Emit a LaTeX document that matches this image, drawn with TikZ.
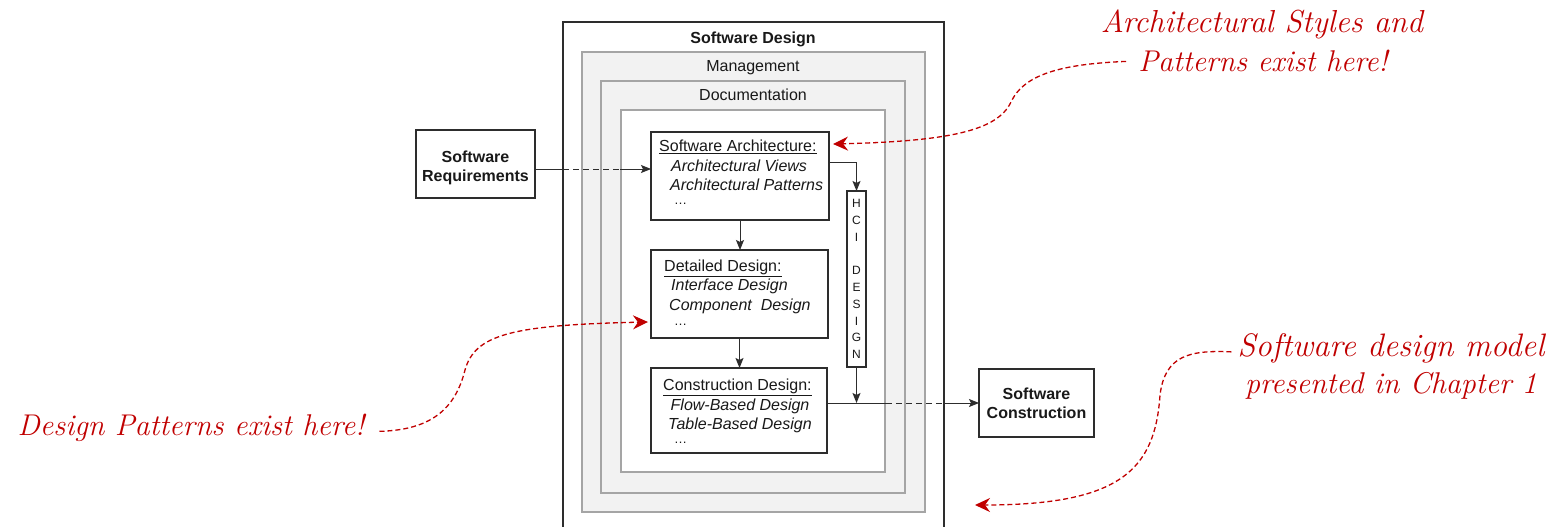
\documentclass[tikz,border=0pt]{standalone}
\usepackage{fontspec}
\setmainfont{Liberation Sans}
\newfontfamily\handfont{Latin Modern Roman}
\usetikzlibrary{arrows.meta,calc}
\definecolor{layerfill}{RGB}{242,242,242}
\definecolor{layerline}{RGB}{165,165,165}
\definecolor{boxline}{RGB}{45,45,45}
\definecolor{annred}{RGB}{192,0,0}
\tikzset{
  box/.style={draw=boxline, line width=1.1pt, fill=white, inner sep=0pt, outer sep=0pt},
  layer/.style={draw=layerline, line width=1.5pt, fill=layerfill, inner sep=0pt, outer sep=0pt},
  lbl/.style={font=\fontsize{16}{19}\selectfont, inner sep=0pt, text=black!90},
  blbl/.style={font=\fontsize{16}{19}\selectfont\bfseries, inner sep=0pt, align=center, text=black!90},
  ttl/.style={font=\fontsize{16}{19}\selectfont, anchor=base west, inner sep=0pt, text=black!90},
  itm/.style={font=\fontsize{16}{19}\selectfont\itshape, anchor=base west, inner sep=0pt, text=black!90},
  dotsl/.style={font=\fontsize{13}{15}\selectfont, anchor=base west, inner sep=0pt, text=black!90},
  conn/.style={draw=boxline, line width=1pt},
  tip/.style={-{Stealth[length=10pt,width=8pt,inset=2pt]}},
  ann/.style={font=\handfont\itshape\fontsize{30}{38}\selectfont, text=annred, inner sep=0pt, anchor=base},
  annarrow/.style={draw=annred, line width=1.3pt, dash pattern=on 5pt off 3pt,
     -{Stealth[length=15pt,width=14pt,inset=5pt]}}
}
\begin{document}
\begin{tikzpicture}[x=1pt,y=-1pt]
\useasboundingbox (0,0) rectangle (1553,527);
\clip (0,0) rectangle (1553,527);
% layers
\node[box, minimum width=381pt, minimum height=538pt] (sd) at (753.5,291) {};
\node[layer, minimum width=343pt, minimum height=460pt] (mgmt) at (753.5,282) {};
\node[layer, minimum width=304pt, minimum height=412pt] (doc) at (753,287) {};
\node[draw=layerline, line width=1.5pt, fill=white, inner sep=0pt, minimum width=264pt, minimum height=362pt] (inner) at (753,291) {};
\node[blbl] (sdl) at (753,39) {Software Design};
\node[lbl] (mgl) at (753,68) {Management};
\node[lbl] (dcl) at (753,95) {Documentation};
% boxes
\node[box, minimum width=178pt, minimum height=88pt] (SA) at (740,176) {};
\node[box, minimum width=177pt, minimum height=88pt] (DD) at (739.5,294) {};
\node[box, minimum width=176pt, minimum height=85pt] (CD) at (739,410.5) {};
\node[box, minimum width=19pt, minimum height=176pt] (HCI) at (856.5,279) {};
\node[box, minimum width=119pt, minimum height=68pt] (SR) at (475.5,164) {};
\node[box, minimum width=115pt, minimum height=68pt] (SC) at (1036.5,403) {};
\node[blbl] (SRt) at ([yshift=-4pt]SR.center) {Software\\Requirements};
\node[blbl] (SCt) at (SC.center) {Software\\Construction};
% texts
\node[ttl] (SA0) at (659,151.5) {\underline{Software Architecture:}};
\node[itm] (SA1) at (671,171) {Architectural Views};
\node[itm] (SA2) at (670,190.5) {Architectural Patterns};
\node[dotsl] (SA3) at (674,204) {…};
\node[ttl] (DD0) at (664,271.5) {\underline{Detailed Design:}};
\node[itm] (DD1) at (671,290.5) {Interface Design};
\node[itm] (DD2) at (669,310) {Component\ \ Design};
\node[dotsl] (DD3) at (674,325) {…};
\node[ttl] (CD0) at (663,390.5) {\underline{Construction Design:}};
\node[itm] (CD1) at (670.5,410) {Flow-Based Design};
\node[itm] (CD2) at (668,429.5) {Table-Based Design};
\node[dotsl] (CD3) at (674,443) {…};
\node[font=\fontsize{12}{16.8}\selectfont, align=center, inner sep=0pt, text=black!90] (HCIt) at (HCI.center) {H\\C\\I\\\mbox{}\\D\\E\\S\\I\\G\\N};
% connectors
\coordinate (r0) at ([yshift=-5pt]SR.east);
\coordinate (r1) at (sd.west |- r0);
\coordinate (r2) at (inner.west |- r0);
\draw[conn] (r0) -- (r1);
\draw[conn, dash pattern=on 6pt off 4pt] (r1) -- (r2);
\draw[conn, tip] (r2) -- (SA.west |- r0);
\coordinate (c0) at (CD.east |- SC.west);
\coordinate (c1) at (inner.east |- SC.west);
\coordinate (c2) at (sd.east |- SC.west);
\draw[conn] (c0) -- (c1);
\draw[conn, dash pattern=on 6pt off 4pt] (c1) -- (c2);
\draw[conn, tip] (c2) -- (SC.west);
\draw[conn, tip] ([yshift=14pt]SA.east) -| (HCI.north);
\draw[conn, tip] (HCI.south) -- (HCI.south |- SC.west);
\draw[conn, tip] (SA.south) -- (SA.south |- DD.north);
\draw[conn, tip] (DD.south) -- (DD.south |- CD.north);
% annotations
\node[ann, font=\handfont\itshape\fontsize{31.8}{38}\selectfont] (a1a) at (1262,33) {Architectural Styles and};
\node[ann] (a1b) at (1263,72) {Patterns exist here!};
\node[ann] (a2) at (191,435) {Design Patterns exist here!};
\node[ann, font=\handfont\itshape\fontsize{32.5}{38}\selectfont] (a3a) at (1391,356) {Software design model};
\node[ann] (a3b) at (1391,393) {presented in Chapter 1};
\coordinate (e1) at ([xshift=4pt,yshift=32pt]SA.east);
\coordinate (e2) at ([xshift=-3pt,yshift=-28pt]DD.west);
\coordinate (e3) at (975,505);
\draw[annarrow] ([xshift=-12pt]a1b.west) .. controls (1060,64) and (1025,75) .. (1012,100)
   .. controls (1000,128) and (960,141) .. (e1);
\draw[annarrow] ([xshift=15pt,yshift=-4pt]a2.east) .. controls (430,430) and (455,410) .. (465,370)
   .. controls (475,335) and (510,325) .. (e2);
\draw[annarrow] ([xshift=-6pt,yshift=-4pt]a3a.west) .. controls (1190,350) and (1165,355) .. (1160,395)
   .. controls (1155,470) and (1120,505) .. (e3);
\end{tikzpicture}
\end{document}
